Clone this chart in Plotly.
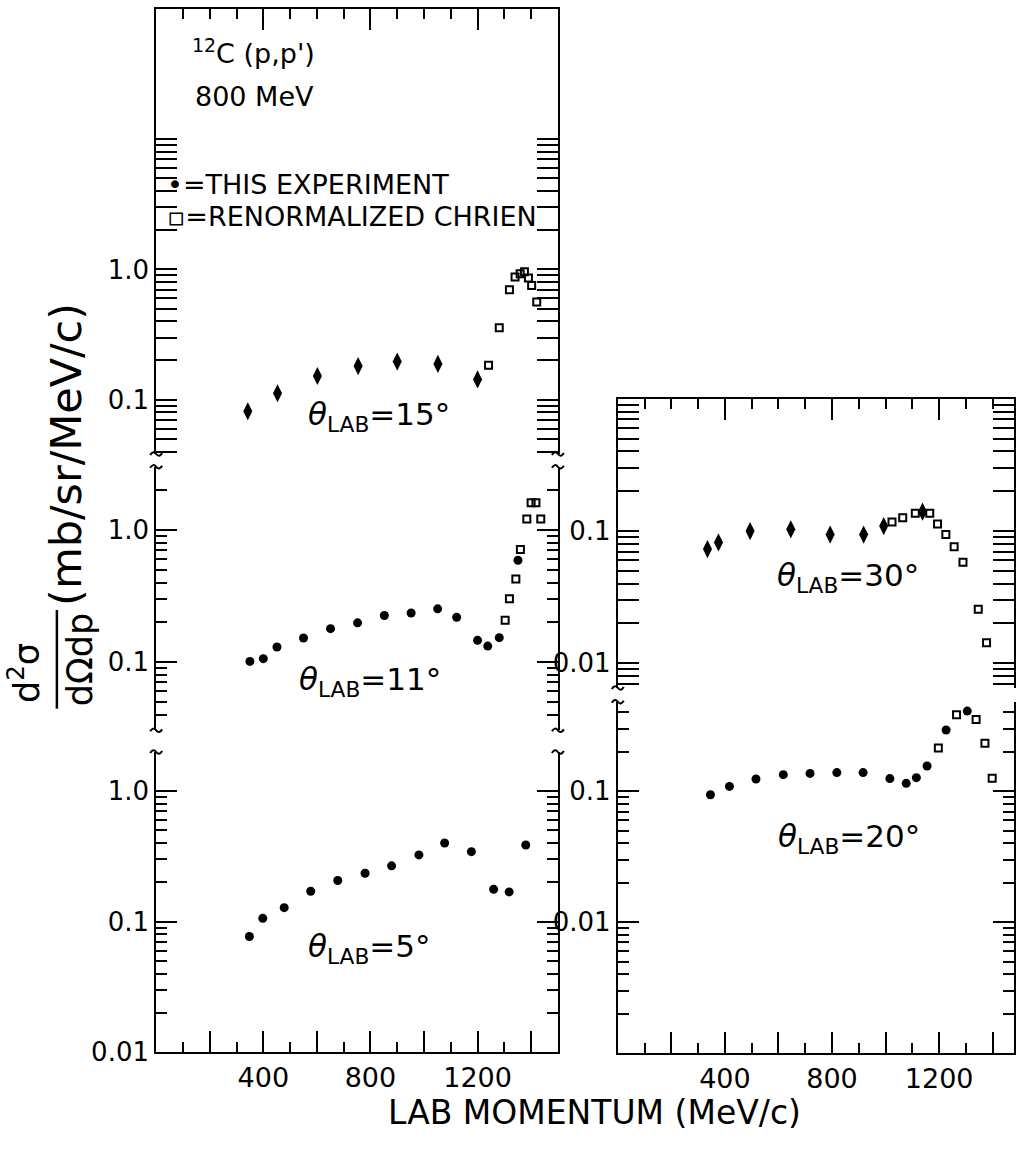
import plotly.graph_objects as go

# ---------------- data ----------------
# theta = 15 deg
p15_exp_x = [342, 453, 602, 754, 900, 1052, 1200]
p15_exp_y = [0.0815, 0.112, 0.152, 0.181, 0.196, 0.188, 0.143]
p15_chr_x = [1241, 1281, 1319, 1340, 1359, 1375, 1390, 1402, 1421]
p15_chr_y = [0.184, 0.357, 0.697, 0.875, 0.927, 0.96, 0.86, 0.752, 0.562]

# theta = 11 deg
p11_exp_x = [350, 400, 451, 550, 651, 752, 852, 952, 1051, 1122, 1200, 1238, 1281, 1351]
p11_exp_y = [0.101, 0.106, 0.130, 0.152, 0.179, 0.198, 0.225, 0.235, 0.253, 0.218,
             0.146, 0.132, 0.153, 0.59]
p11_chr_x = [1303, 1319, 1343, 1360, 1384, 1400, 1418, 1436]
p11_chr_y = [0.207, 0.301, 0.425, 0.712, 1.21, 1.61, 1.61, 1.21]

# theta = 5 deg
p5_exp_x = [348, 398, 478, 577, 678, 780, 879, 981, 1077, 1177, 1260, 1318, 1380]
p5_exp_y = [0.0769, 0.106, 0.128, 0.171, 0.207, 0.235, 0.268, 0.325, 0.401, 0.344,
            0.177, 0.169, 0.387]

# theta = 30 deg
p30_exp_x = [335, 376, 494, 646, 793, 918, 993, 1138]
p30_exp_y = [0.073, 0.082, 0.100, 0.103, 0.094, 0.094, 0.109, 0.140]
p30_chr_x = [1024, 1064, 1111, 1165, 1194, 1225, 1256, 1289, 1346, 1377]
p30_chr_y = [0.117, 0.126, 0.136, 0.136, 0.113, 0.094, 0.076, 0.058, 0.0256, 0.0143]

# theta = 20 deg
p20_exp_x = [346, 417, 516, 618, 718, 818, 916, 1016, 1077, 1115, 1155, 1226, 1305]
p20_exp_y = [0.094, 0.109, 0.124, 0.134, 0.137, 0.139, 0.139, 0.125, 0.115, 0.127,
             0.156, 0.294, 0.41]
p20_chr_x = [1197, 1265, 1338, 1371, 1398]
p20_chr_y = [0.214, 0.385, 0.354, 0.233, 0.126]

# tick labels
x_major = [200, 400, 600, 800, 1000, 1200, 1400]
x_major_text = ["", "400", "", "800", "", "1200", ""]
decades = [0.001, 0.01, 0.1, 1.0, 10.0, 100.0]
decade_text = {0.001: "", 0.01: "0.01", 0.1: "0.1", 1.0: "1.0", 10.0: "", 100.0: ""}

# ---------------- layout helpers ----------------
W, H = 1016, 1152
FONT = "DejaVu Sans"
BLACK = "black"


def px(x):
    return x / W


def py(y):
    return 1 - y / H


def minor_vals(lo, hi):
    vals = []
    for d in decades:
        for k in range(2, 10):
            v = d * k
            if lo <= v <= hi:
                vals.append(v)
    return vals


def yaxis(dom_top, dom_bot, lo, hi, anchor, labels, minor_hi=None):
    ticks = [d for d in decades if 10 ** lo <= d * 1.0001 and d <= 10 ** hi * 1.0001]
    txt = [decade_text[d] if d in labels else "" for d in ticks]
    mh = 10 ** hi if minor_hi is None else minor_hi
    return dict(
        type="log", domain=[py(dom_bot), py(dom_top)], range=[lo, hi], anchor=anchor,
        showline=True, linewidth=2, linecolor=BLACK, mirror="allticks",
        ticks="inside", ticklen=21, tickwidth=2, tickcolor=BLACK,
        tickmode="array", tickvals=ticks, ticktext=txt,
        tickfont=dict(family=FONT, size=26, color=BLACK),
        minor=dict(ticks="inside", ticklen=11, tickwidth=2, tickcolor=BLACK,
                   tickmode="array", tickvals=minor_vals(10 ** lo, mh)),
        showgrid=False, zeroline=False,
    )


def xaxis(dom, rng, anchor, side="bottom", labels=True, overlay=None):
    d = dict(
        domain=dom, range=rng, anchor=anchor, side=side,
        showline=True, linewidth=2, linecolor=BLACK,
        ticks="inside", ticklen=21, tickwidth=2, tickcolor=BLACK,
        tickmode="array", tickvals=x_major, ticktext=x_major_text,
        showticklabels=labels,
        tickfont=dict(family=FONT, size=27, color=BLACK),
        minor=dict(ticks="inside", ticklen=10, tickwidth=2, tickcolor=BLACK,
                   tick0=0, dtick=100),
        showgrid=False, zeroline=False,
    )
    if overlay:
        d["overlaying"] = overlay
        d.pop("domain")
    return d


fig = go.Figure()

exp_m = dict(symbol="circle", size=9, color=BLACK)
dia_m = dict(symbol="diamond-tall", size=13, color=BLACK)
chr_m = dict(symbol="square-open", size=7, color=BLACK, line=dict(width=2, color=BLACK))


def add(xs, ys, marker, xa, ya):
    fig.add_trace(go.Scatter(x=xs, y=ys, mode="markers", marker=marker,
                             xaxis=xa, yaxis=ya, showlegend=False, hoverinfo="skip"))


add(p15_exp_x, p15_exp_y, dia_m, "x", "y")
add(p15_chr_x, p15_chr_y, chr_m, "x", "y")
add(p11_exp_x, p11_exp_y, exp_m, "x", "y2")
add(p11_chr_x, p11_chr_y, chr_m, "x", "y2")
add(p5_exp_x, p5_exp_y, exp_m, "x", "y3")
add(p30_exp_x, p30_exp_y, dia_m, "x2", "y4")
add(p30_chr_x, p30_chr_y, chr_m, "x2", "y4")
add(p20_exp_x, p20_exp_y, exp_m, "x2", "y5")
add(p20_chr_x, p20_chr_y, chr_m, "x2", "y5")
# empty traces so the top frame axes get drawn
add([], [], exp_m, "x3", "y")
add([], [], exp_m, "x4", "y4")

XL = 1500.0
left_dom = [px(156.5), px(559)]
right_dom = [px(619), 1.0]
right_max = (W - 619) / (402.5 / XL)

fig.update_layout(
    width=W, height=H,
    margin=dict(l=0, r=0, t=0, b=0),
    paper_bgcolor="white", plot_bgcolor="rgba(0,0,0,0)",
    showlegend=False,
    xaxis=xaxis(left_dom, [0, XL], "y3"),
    xaxis2=xaxis(right_dom, [0, right_max], "y5"),
    xaxis3=xaxis(left_dom, [0, XL], "y", side="top", labels=False, overlay="x"),
    xaxis4=xaxis(right_dom, [0, right_max], "y4", side="top", labels=False, overlay="x2"),
    yaxis=yaxis(9, 460, -1.417, 2.0, "x", [0.1, 1.0], minor_hi=10),
    yaxis2=yaxis(473, 740, -1.518, 0.479, "x", [0.1, 1.0]),
    yaxis3=yaxis(762, 1066, -2.0, 0.30, "x", [0.01, 0.1, 1.0]),
    yaxis4=yaxis(404, 697, -2.186, 0.0, "x2", [0.01, 0.1]),
    yaxis5=yaxis(711, 1067, -3.0, -0.316, "x2", [0.01, 0.1]),
)

ann = []


def text(x, y, s, size=28, xanchor="center", angle=0):
    ann.append(dict(x=px(x), y=py(y), xref="paper", yref="paper", text=s,
                    showarrow=False, xanchor=xanchor, yanchor="middle",
                    textangle=angle, font=dict(family=FONT, size=size, color=BLACK)))


# panel texts
text(190, 52, "<sup>12</sup>C (p,p')", size=27, xanchor="left")
text(193, 98, "800 MeV", size=27, xanchor="left")
text(165, 187, "•=THIS EXPERIMENT", size=27, xanchor="left")
text(165, 219, "▫=RENORMALIZED CHRIEN", size=27, xanchor="left")

text(380, 422, "<i>θ</i><sub>LAB</sub>=15°", size=31)
text(371, 690, "<i>θ</i><sub>LAB</sub>=11°", size=31)
text(370, 961, "<i>θ</i><sub>LAB</sub>=5°", size=31)
text(850, 585, "<i>θ</i><sub>LAB</sub>=30°", size=31)
text(851, 850, "<i>θ</i><sub>LAB</sub>=20°", size=31)

# axis titles
text(596, 1127, "LAB MOMENTUM (MeV/c)", size=33)
text(24, 682, "d<sup>2</sup>σ", size=35, angle=-90)
text(80, 668, "dΩdp", size=35, angle=-90)
text(66, 460, "(mb/sr/MeV/c)", size=43, angle=-90)

fig.update_layout(annotations=ann)

shapes = [dict(type="line", xref="paper", yref="paper",
               x0=px(57), x1=px(57), y0=py(618), y1=py(718),
               line=dict(color=BLACK, width=2.5))]

# small axis-break squiggles at the ends of the stacked panel spines
breaks = [(156.5, 460), (559, 460), (156.5, 473), (559, 473),
          (156.5, 740), (559, 740), (156.5, 762), (559, 762),
          (619, 697), (619, 711)]
for bx, by in breaks:
    path = "M {:.5f},{:.5f} Q {:.5f},{:.5f} {:.5f},{:.5f} Q {:.5f},{:.5f} {:.5f},{:.5f}".format(
        px(bx - 6), py(by + 1), px(bx - 3), py(by - 4), px(bx), py(by),
        px(bx + 3), py(by + 4), px(bx + 6), py(by - 1))
    shapes.append(dict(type="path", xref="paper", yref="paper", path=path,
                       line=dict(color=BLACK, width=2)))
fig.update_layout(shapes=shapes)

fig.write_html(
    "out.html",
    config={"displayModeBar": False, "staticPlot": True},
    post_script="document.body.style.margin='0';document.body.style.overflow='hidden';",
)
